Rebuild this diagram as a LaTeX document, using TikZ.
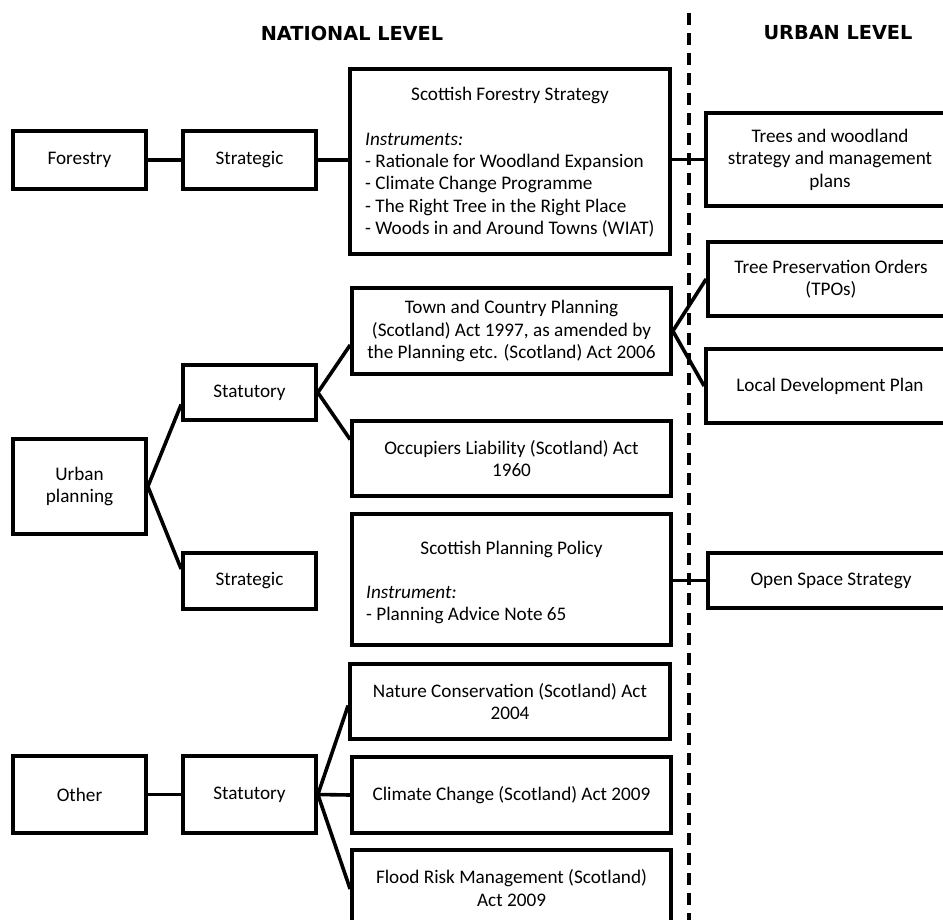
\documentclass[tikz,border=0pt]{standalone}
\usepackage{fontspec}
\setmainfont{Carlito}
\newfontfamily\headfont{DejaVu Sans}
\usetikzlibrary{calc}
\begin{document}
\begin{tikzpicture}[x=1pt,y=-1pt,
  box/.style={draw,line width=3.7pt,rectangle,inner sep=0pt,align=center,
    font=\fontsize{19.2}{22.4}\selectfont},
  txt/.style={inner sep=0pt,align=left,font=\fontsize{19.2}{22.4}\selectfont},
  link/.style={line width=3.6pt},
  heading/.style={font=\headfont\bfseries\fontsize{19.3}{22}\selectfont}]
\useasboundingbox (0,0) rectangle (943,919);
\clip (0,0) rectangle (943,919);

% headings
\node[heading] (nat) at (352,33) {NATIONAL LEVEL};
\node[heading] (urb) at (838,33) {URBAN LEVEL};

% left column
\node[box,minimum width=133pt,minimum height=58pt] (forestry) at (79.5,160) {Forestry};
\node[box,minimum width=133pt,minimum height=95pt] (urban) at (79.5,486.5) {Urban\\planning};
\node[box,minimum width=133pt,minimum height=77pt] (other) at (79.5,794.5) {Other};

% second column
\node[box,minimum width=133pt,minimum height=58pt] (strat1) at (249.5,160) {Strategic};
\node[box,minimum width=133pt,minimum height=55pt] (stat1) at (249.5,392.5) {Statutory};
\node[box,minimum width=133pt,minimum height=56pt] (strat2) at (249.5,581) {Strategic};
\node[box,minimum width=133pt,minimum height=77pt] (stat2) at (249.5,794.5) {Statutory};

% national instruments
\node[box,minimum width=320pt,minimum height=185pt] (sfs) at (510,161.5) {};
\node[txt,align=center] (sfstitle) at (510,95) {Scottish Forestry Strategy};
\node[txt,anchor=west] (sfslist) at (365,185) {\textit{Instruments:}\\- Rationale for Woodland Expansion\\- Climate Change Programme\\- The Right Tree in the Right Place\\- Woods in and Around Towns (WIAT)};

\node[box,minimum width=319pt,minimum height=86pt] (town) at (511.5,331) {Town and Country Planning\\(Scotland) Act 1997, as amended by\\the Planning etc. (Scotland) Act 2006};
\node[box,minimum width=319pt,minimum height=75pt] (occ) at (511.5,458.5) {Occupiers Liability (Scotland) Act\\1960};

\node[box,minimum width=319pt,minimum height=131pt] (spp) at (511.5,579.5) {};
\node[txt,align=center] (spptitle) at (511.5,549) {Scottish Planning Policy};
\node[txt,anchor=west] (spplist) at (366,605) {\textit{Instrument:}\\- Planning Advice Note 65};

\node[box,minimum width=320pt,minimum height=75pt] (nature) at (510,701.5) {Nature Conservation (Scotland) Act\\2004};
\node[box,minimum width=319pt,minimum height=76pt] (climate) at (511.5,795) {Climate Change (Scotland) Act 2009};
\node[box,minimum width=319pt,minimum height=76pt] (flood) at (511.5,888) {Flood Risk Management (Scotland)\\Act 2009};

% urban level
\node[box,minimum width=248pt,minimum height=93pt] (trees) at (830,159.5) {Trees and woodland\\strategy and management\\plans};
\node[box,minimum width=246pt,minimum height=74pt] (tpo) at (831,279) {Tree Preservation Orders\\(TPOs)};
\node[box,minimum width=248pt,minimum height=74pt] (ldp) at (830,386) {Local Development Plan};
\node[box,minimum width=246pt,minimum height=55pt] (open) at (831,580.5) {Open Space Strategy};

% dashed divider
\coordinate (dtop) at (689,13);
\coordinate (dbot) at (689,930);
\draw[line width=3.6pt,dash pattern=on 12pt off 8pt] (dtop) -- (dbot);

% connectors
\draw[link] (forestry.east) -- (strat1.west);
\draw[link] (strat1.east) -- (strat1.east -| sfs.west);
\draw[link] (trees.west -| sfs.east) -- (trees.west);

\draw[link] ($(stat1.west)+(0,12)$) -- (urban.east) -- ($(strat2.west)+(0,-12)$);
\draw[link] ($(town.west)+(0,14)$) -- (stat1.east) -- ($(occ.west)+(0,-19)$);
\draw[link] (tpo.west) -- (town.east) -- (ldp.west);

\draw[link] (spp.east |- open.west) -- (open.west);

\draw[link] (other.east) -- (stat2.west);
\draw[link] ($(nature.west)+(0,4)$) -- (stat2.east) -- ($(flood.west)+(0,1)$);
\draw[link] (stat2.east) -- (climate.west);
\end{tikzpicture}
\end{document}
